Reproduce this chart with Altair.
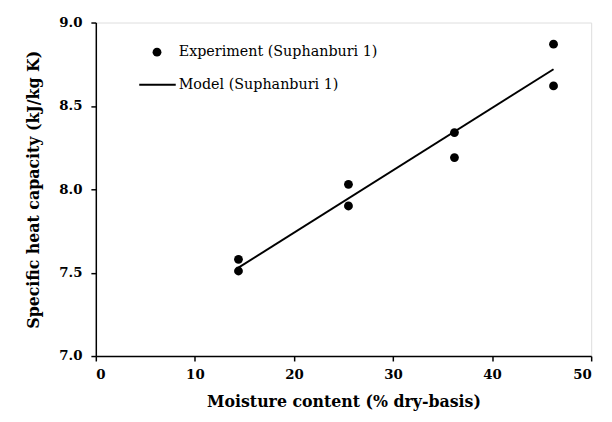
import altair as alt
import pandas as pd

exp_x = [14.4, 14.4, 25.5, 25.5, 36.2, 36.2, 46.2, 46.2]
exp_y = [7.58, 7.51, 8.03, 7.90, 8.34, 8.19, 8.87, 8.62]

# Model line
model_x = [14.4, 46.2]
model_y = [7.53, 8.72]

x_ticks = [0, 10, 20, 30, 40, 50]
y_ticks = [7.0, 7.5, 8.0, 8.5, 9.0]

legend_labels = ["Experiment (Suphanburi 1)", "Model (Suphanburi 1)"]
legend_ypos = [30, 63]

FONT = "DejaVu Serif"

exp_df = pd.DataFrame({"x": exp_x, "y": exp_y})
model_df = pd.DataFrame({"x": model_x, "y": model_y})

xscale = alt.Scale(domain=[0, 50], nice=False, zero=False)
yscale = alt.Scale(domain=[7.0, 9.0], nice=False, zero=False)

xaxis = alt.Axis(
    title="Moisture content (% dry-basis)",
    values=x_ticks, format="d", grid=False,
    domainColor="black", domainWidth=1.5, tickColor="black", tickWidth=1.5, tickSize=5,
    labelFont=FONT, labelFontSize=13.5, labelFontWeight="bold", labelColor="black", labelPadding=7,
    titleFont=FONT, titleFontSize=16, titleFontWeight="bold", titleColor="black", titlePadding=13,
)
yaxis = alt.Axis(
    title="Specific heat capacity (kJ/kg K)",
    values=y_ticks, format=".1f", grid=False,
    domainColor="black", domainWidth=1.5, tickColor="black", tickWidth=1.5, tickSize=5,
    labelFont=FONT, labelFontSize=13.5, labelFontWeight="bold", labelColor="black", labelPadding=9,
    titleFont=FONT, titleFontSize=16, titleFontWeight="bold", titleColor="black", titlePadding=18,
)

points = alt.Chart(exp_df).mark_point(filled=True, color="black", size=80, opacity=1).encode(
    x=alt.X("x:Q", scale=xscale, axis=xaxis),
    y=alt.Y("y:Q", scale=yscale, axis=yaxis),
)
line = alt.Chart(model_df).mark_line(color="black", strokeWidth=2).encode(
    x=alt.X("x:Q", scale=xscale),
    y=alt.Y("y:Q", scale=yscale),
)

# Manual legend
leg_point = alt.Chart(pd.DataFrame({"a": [0]})).mark_point(
    filled=True, color="black", size=80, opacity=1
).encode(x=alt.value(62), y=alt.value(30))
leg_rule = alt.Chart(pd.DataFrame({"a": [0]})).mark_rule(
    color="black", strokeWidth=2
).encode(x=alt.value(44), x2=alt.value(81), y=alt.value(63))
leg_text = alt.Chart(pd.DataFrame({"label": legend_labels, "ypos": legend_ypos})).mark_text(
    align="left", baseline="middle", font=FONT, fontSize=14.5, color="black"
).encode(x=alt.value(84), y=alt.Y("ypos:Q", scale=None), text="label:N")

chart = alt.layer(line, points, leg_point, leg_rule, leg_text).properties(
    width=502, height=338,
    autosize=alt.AutoSizeParams(type="none"),
    padding={"left": 89, "top": 12, "right": 13, "bottom": 56},
).configure_view(stroke=None).configure(background="white")

chart.save("out.html", embed_options={"renderer": "svg", "actions": False})
